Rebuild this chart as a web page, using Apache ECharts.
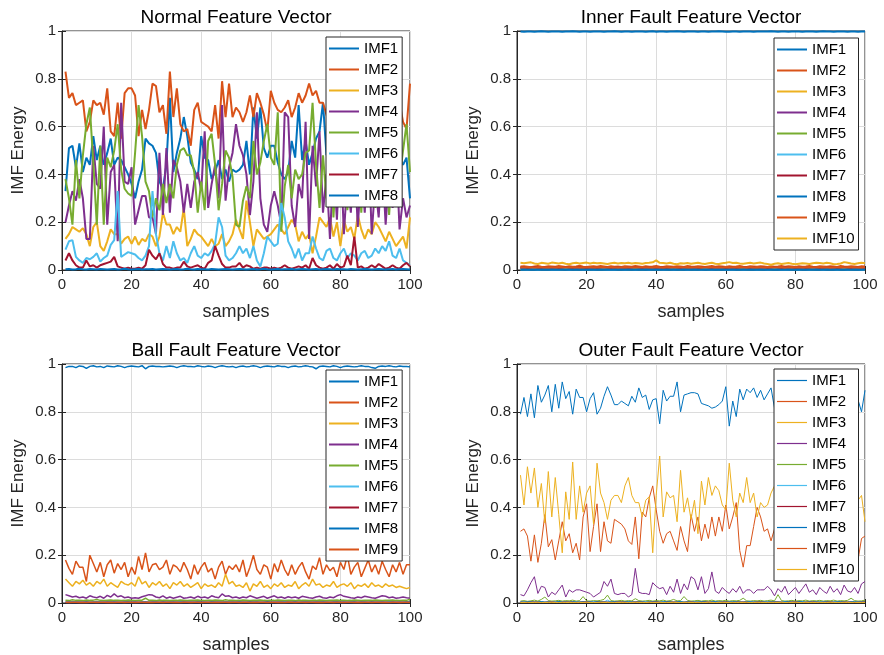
<!DOCTYPE html>
<html>
<head>
<meta charset="utf-8">
<title>IMF Energy Feature Vectors</title>
<script src="https://cdn.jsdelivr.net/npm/echarts@6/dist/echarts.min.js"></script>
<style>
  html, body { margin: 0; padding: 0; background: #fff; }
  #chart { width: 884px; height: 655px; }
</style>
</head>
<body>
<div id="chart"></div>
<script>
// ---- Normal Feature Vector (samples 1..100) ----
const nIMF1 = [0.33,0.51,0.52,0.43,0.53,0.41,0.47,0.44,0.56,0.46,
  0.52,0.44,0.49,0.55,0.44,0.47,0.46,0.43,0.40,0.36,
  0.30,0.37,0.42,0.55,0.53,0.52,0.49,0.37,0.34,0.44,
  0.72,0.41,0.49,0.55,0.64,0.56,0.45,0.42,0.38,0.56,
  0.47,0.46,0.38,0.41,0.46,0.38,0.42,0.37,0.42,0.41,
  0.42,0.44,0.54,0.40,0.68,0.55,0.68,0.51,0.47,0.52,
  0.52,0.45,0.40,0.38,0.41,0.54,0.47,0.69,0.46,0.54,
  0.44,0.49,0.55,0.58,0.70,0.48,0.52,0.45,0.55,0.43,
  0.50,0.46,0.53,0.41,0.48,0.52,0.44,0.50,0.47,0.55,
  0.42,0.49,0.51,0.45,0.53,0.40,0.47,0.44,0.47,0.30]
const nIMF2 = [0.83,0.72,0.74,0.69,0.70,0.71,0.58,0.62,0.71,0.69,
  0.70,0.65,0.76,0.58,0.56,0.70,0.55,0.74,0.76,0.76,
  0.73,0.56,0.67,0.59,0.67,0.78,0.77,0.66,0.69,0.57,
  0.83,0.64,0.76,0.61,0.58,0.59,0.52,0.67,0.70,0.62,
  0.61,0.60,0.58,0.69,0.55,0.79,0.64,0.78,0.64,0.68,
  0.66,0.62,0.66,0.73,0.64,0.74,0.70,0.65,0.58,0.75,
  0.70,0.67,0.66,0.68,0.71,0.64,0.68,0.74,0.70,0.73,
  0.78,0.73,0.75,0.70,0.70,0.65,0.60,0.72,0.63,0.68,
  0.70,0.62,0.74,0.66,0.71,0.60,0.69,0.73,0.64,0.70,
  0.66,0.72,0.61,0.68,0.74,0.63,0.70,0.62,0.59,0.78]
const nIMF3 = [0.13,0.15,0.18,0.17,0.16,0.175,0.15,0.10,0.18,0.20,
  0.10,0.08,0.12,0.17,0.15,0.15,0.11,0.13,0.14,0.11,
  0.14,0.105,0.13,0.12,0.15,0.14,0.10,0.14,0.24,0.19,
  0.19,0.15,0.18,0.16,0.26,0.10,0.13,0.17,0.15,0.14,
  0.12,0.10,0.13,0.10,0.11,0.15,0.10,0.12,0.15,0.21,
  0.17,0.13,0.29,0.20,0.10,0.17,0.15,0.13,0.14,0.15,
  0.17,0.19,0.17,0.15,0.18,0.21,0.19,0.12,0.16,0.13,
  0.15,0.07,0.14,0.22,0.20,0.18,0.22,0.14,0.20,0.10,
  0.21,0.16,0.18,0.13,0.23,0.17,0.13,0.17,0.15,0.20,
  0.18,0.15,0.12,0.16,0.13,0.10,0.12,0.14,0.09,0.22]
const nIMF4 = [0.20,0.27,0.33,0.29,0.38,0.30,0.13,0.13,0.52,0.36,
  0.34,0.60,0.19,0.41,0.44,0.12,0.70,0.37,0.36,0.43,
  0.19,0.25,0.31,0.31,0.22,0.22,0.15,0.49,0.23,0.51,
  0.24,0.46,0.43,0.37,0.24,0.36,0.26,0.37,0.41,0.33,
  0.58,0.26,0.36,0.44,0.30,0.69,0.29,0.43,0.49,0.61,
  0.52,0.48,0.40,0.23,0.37,0.66,0.30,0.19,0.16,0.27,
  0.33,0.27,0.19,0.66,0.64,0.27,0.18,0.36,0.30,0.62,
  0.13,0.52,0.35,0.58,0.24,0.40,0.13,0.45,0.21,0.52,
  0.15,0.38,0.24,0.48,0.18,0.42,0.24,0.55,0.15,0.36,
  0.22,0.47,0.19,0.40,0.26,0.50,0.17,0.30,0.22,0.27]
const nIMF5 = [0.38,0.30,0.19,0.46,0.30,0.48,0.61,0.68,0.45,0.19,
  0.52,0.19,0.47,0.43,0.50,0.61,0.42,0.34,0.32,0.31,
  0.49,0.69,0.56,0.37,0.33,0.22,0.30,0.25,0.36,0.28,
  0.36,0.30,0.44,0.50,0.51,0.48,0.48,0.41,0.24,0.37,
  0.25,0.54,0.57,0.44,0.25,0.36,0.50,0.47,0.39,0.19,
  0.18,0.29,0.35,0.30,0.54,0.40,0.45,0.54,0.61,0.47,
  0.44,0.66,0.16,0.35,0.44,0.30,0.42,0.38,0.40,0.49,
  0.50,0.70,0.44,0.26,0.48,0.30,0.55,0.22,0.46,0.34,
  0.58,0.25,0.42,0.30,0.52,0.24,0.46,0.33,0.56,0.26,
  0.40,0.28,0.50,0.23,0.45,0.32,0.38,0.50,0.61,0.41]
const nIMF6 = [0.085,0.12,0.125,0.055,0.04,0.03,0.05,0.045,0.055,0.07,
  0.035,0.05,0.06,0.105,0.125,0.33,0.055,0.065,0.075,0.07,
  0.065,0.05,0.04,0.06,0.10,0.33,0.15,0.07,0.04,0.10,
  0.05,0.12,0.07,0.04,0.05,0.03,0.07,0.10,0.06,0.05,
  0.07,0.06,0.08,0.11,0.22,0.18,0.06,0.04,0.05,0.07,
  0.10,0.07,0.09,0.05,0.10,0.04,0.015,0.07,0.14,0.12,
  0.10,0.11,0.28,0.22,0.12,0.09,0.05,0.09,0.04,0.07,
  0.07,0.14,0.09,0.05,0.04,0.08,0.09,0.05,0.04,0.07,
  0.09,0.05,0.07,0.06,0.04,0.07,0.08,0.05,0.06,0.09,
  0.07,0.10,0.08,0.12,0.06,0.05,0.09,0.04,0.03,0.02]
const nIMF7 = [0.04,0.07,0.04,0.02,0.01,0.01,0.04,0.015,0.02,0.01,
  0.02,0.025,0.03,0.035,0.055,0.015,0.01,0.005,0.01,0.005,
  0.005,0.01,0.005,0.02,0.085,0.06,0.045,0.07,0.025,0.01,
  0.01,0.005,0.01,0.01,0.035,0.015,0.01,0.015,0.02,0.01,
  0.005,0.03,0.04,0.10,0.06,0.025,0.01,0.01,0.015,0.015,
  0.03,0.01,0.02,0.015,0.005,0.01,0.005,0.01,0.01,0.005,
  0.01,0.005,0.01,0.02,0.01,0.005,0.01,0.015,0.01,0.02,
  0.005,0.05,0.02,0.01,0.005,0.01,0.02,0.005,0.025,0.01,
  0.015,0.06,0.02,0.14,0.01,0.015,0.005,0.01,0.02,0.01,
  0.025,0.015,0.005,0.01,0.02,0.01,0.005,0.02,0.03,0.015]
const nIMF8 = [0.003,0.004,0.002,0.003,0.005,0.003,0.002,0.004,0.003,0.002,
  0.004,0.003,0.002,0.003,0.004,0.002,0.003,0.005,0.003,0.002,
  0.003,0.004,0.002,0.003,0.003,0.004,0.002,0.003,0.004,0.003,
  0.002,0.003,0.004,0.002,0.003,0.005,0.003,0.002,0.004,0.003,
  0.003,0.002,0.004,0.003,0.002,0.003,0.004,0.003,0.002,0.003,
  0.004,0.003,0.002,0.003,0.004,0.002,0.003,0.005,0.003,0.002,
  0.003,0.004,0.002,0.003,0.003,0.004,0.002,0.003,0.004,0.003,
  0.002,0.003,0.004,0.002,0.003,0.004,0.003,0.002,0.004,0.003,
  0.003,0.002,0.004,0.003,0.002,0.003,0.004,0.003,0.002,0.003,
  0.004,0.003,0.002,0.003,0.004,0.002,0.003,0.004,0.003,0.002]

// ---- Inner Fault Feature Vector ----
const iIMF1 = [0.998,0.997,0.998,0.998,0.997,0.998,0.999,0.998,0.997,0.998,
  0.998,0.998,0.997,0.998,0.998,0.999,0.998,0.997,0.998,0.998,
  0.997,0.998,0.998,0.998,0.997,0.998,0.998,0.999,0.998,0.997,
  0.998,0.998,0.997,0.998,0.998,0.998,0.997,0.998,0.999,0.997,
  0.998,0.998,0.997,0.998,0.998,0.999,0.998,0.997,0.998,0.998,
  0.998,0.997,0.998,0.998,0.997,0.998,0.998,0.999,0.998,0.997,
  0.997,0.998,0.998,0.997,0.998,0.998,0.998,0.997,0.998,0.998,
  0.998,0.998,0.999,0.998,0.997,0.998,0.998,0.997,0.998,0.998,
  0.998,0.997,0.998,0.998,0.998,0.997,0.998,0.999,0.998,0.998,
  0.997,0.998,0.998,0.998,0.997,0.998,0.998,0.997,0.998,0.998]
const iIMF2 = [0.015,0.016,0.014,0.012,0.015,0.017,0.014,0.013,0.016,0.015,
  0.014,0.017,0.015,0.013,0.016,0.014,0.015,0.018,0.014,0.013,
  0.015,0.016,0.014,0.017,0.015,0.013,0.016,0.014,0.015,0.013,
  0.016,0.015,0.014,0.017,0.015,0.013,0.016,0.014,0.015,0.017,
  0.014,0.013,0.016,0.015,0.014,0.016,0.015,0.013,0.017,0.015,
  0.014,0.016,0.015,0.013,0.015,0.017,0.014,0.016,0.015,0.013,
  0.016,0.014,0.015,0.017,0.014,0.013,0.016,0.015,0.014,0.016,
  0.015,0.013,0.016,0.014,0.015,0.017,0.014,0.016,0.015,0.013,
  0.016,0.014,0.015,0.017,0.014,0.013,0.016,0.015,0.014,0.016,
  0.015,0.013,0.017,0.015,0.014,0.016,0.015,0.013,0.016,0.015]
const iIMF3 = [0.005,0.004,0.006,0.005,0.004,0.005,0.006,0.004,0.005,0.005,
  0.004,0.006,0.005,0.004,0.005,0.006,0.005,0.004,0.005,0.006,
  0.005,0.004,0.006,0.005,0.005,0.004,0.005,0.006,0.004,0.005,
  0.006,0.005,0.004,0.005,0.006,0.005,0.004,0.005,0.005,0.006,
  0.004,0.005,0.006,0.005,0.004,0.005,0.006,0.004,0.005,0.005,
  0.005,0.004,0.006,0.005,0.004,0.005,0.006,0.004,0.005,0.005,
  0.004,0.006,0.005,0.004,0.005,0.006,0.005,0.004,0.005,0.006,
  0.005,0.004,0.006,0.005,0.005,0.004,0.005,0.006,0.004,0.005,
  0.006,0.005,0.004,0.005,0.006,0.005,0.004,0.005,0.005,0.006,
  0.004,0.005,0.006,0.005,0.004,0.005,0.006,0.004,0.005,0.005]
const iIMF4 = [0.006,0.008,0.007,0.01,0.006,0.007,0.009,0.006,0.008,0.007,
  0.006,0.009,0.007,0.006,0.008,0.012,0.007,0.006,0.008,0.007,
  0.009,0.006,0.007,0.008,0.006,0.01,0.007,0.006,0.008,0.007,
  0.006,0.009,0.007,0.008,0.006,0.007,0.009,0.006,0.008,0.012,
  0.007,0.006,0.008,0.007,0.009,0.006,0.007,0.008,0.006,0.007,
  0.009,0.006,0.008,0.007,0.006,0.009,0.007,0.006,0.012,0.007,
  0.006,0.008,0.007,0.009,0.006,0.007,0.008,0.006,0.007,0.009,
  0.006,0.008,0.007,0.006,0.009,0.007,0.006,0.008,0.007,0.006,
  0.009,0.007,0.006,0.008,0.007,0.009,0.006,0.007,0.008,0.006,
  0.007,0.009,0.006,0.008,0.007,0.006,0.009,0.007,0.006,0.008]
const iIMF5 = [0.003,0.002,0.003,0.004,0.003,0.002,0.003,0.003,0.004,0.002,
  0.003,0.003,0.002,0.004,0.003,0.003,0.002,0.003,0.004,0.003,
  0.002,0.003,0.003,0.004,0.002,0.003,0.003,0.002,0.004,0.003,
  0.003,0.002,0.003,0.004,0.003,0.002,0.003,0.003,0.004,0.002,
  0.003,0.003,0.002,0.004,0.003,0.003,0.002,0.003,0.004,0.003,
  0.002,0.003,0.003,0.004,0.002,0.003,0.003,0.002,0.004,0.003,
  0.003,0.002,0.003,0.004,0.003,0.002,0.003,0.003,0.004,0.002,
  0.003,0.003,0.002,0.004,0.003,0.003,0.002,0.003,0.004,0.003,
  0.002,0.003,0.003,0.004,0.002,0.003,0.003,0.002,0.004,0.003,
  0.003,0.002,0.003,0.004,0.003,0.002,0.003,0.003,0.004,0.002]
const iIMF6 = [0.002,0.002,0.001,0.002,0.002,0.001,0.002,0.002,0.002,0.001,
  0.002,0.001,0.002,0.002,0.001,0.002,0.002,0.002,0.001,0.002,
  0.002,0.001,0.002,0.002,0.002,0.001,0.002,0.001,0.002,0.002,
  0.001,0.002,0.002,0.001,0.002,0.002,0.002,0.001,0.002,0.002,
  0.002,0.001,0.002,0.002,0.001,0.002,0.002,0.002,0.001,0.002,
  0.002,0.002,0.001,0.002,0.002,0.001,0.002,0.002,0.002,0.001,
  0.002,0.001,0.002,0.002,0.001,0.002,0.002,0.002,0.001,0.002,
  0.002,0.001,0.002,0.002,0.002,0.001,0.002,0.001,0.002,0.002,
  0.001,0.002,0.002,0.001,0.002,0.002,0.002,0.001,0.002,0.002,
  0.002,0.001,0.002,0.002,0.001,0.002,0.002,0.002,0.001,0.002]
const iIMF7 = [0.01,0.011,0.009,0.01,0.012,0.01,0.009,0.011,0.01,0.01,
  0.011,0.009,0.01,0.012,0.01,0.009,0.011,0.01,0.01,0.009,
  0.01,0.011,0.009,0.01,0.012,0.01,0.009,0.011,0.01,0.01,
  0.011,0.009,0.01,0.012,0.01,0.009,0.011,0.01,0.01,0.009,
  0.01,0.011,0.009,0.01,0.012,0.01,0.009,0.011,0.01,0.01,
  0.011,0.009,0.01,0.012,0.01,0.009,0.011,0.01,0.01,0.009,
  0.01,0.011,0.009,0.01,0.012,0.01,0.009,0.011,0.01,0.01,
  0.011,0.009,0.01,0.012,0.01,0.009,0.011,0.01,0.01,0.009,
  0.01,0.011,0.009,0.01,0.012,0.01,0.009,0.011,0.01,0.01,
  0.011,0.009,0.01,0.012,0.01,0.009,0.011,0.01,0.01,0.009]
const iIMF8 = [0.001,0.002,0.001,0.001,0.002,0.001,0.002,0.001,0.001,0.002,
  0.001,0.001,0.002,0.001,0.002,0.001,0.001,0.002,0.001,0.001,
  0.002,0.001,0.001,0.002,0.001,0.002,0.001,0.001,0.002,0.001,
  0.001,0.002,0.001,0.001,0.002,0.001,0.002,0.001,0.001,0.002,
  0.001,0.001,0.002,0.001,0.002,0.001,0.001,0.002,0.001,0.001,
  0.002,0.001,0.001,0.002,0.001,0.002,0.001,0.001,0.002,0.001,
  0.001,0.002,0.001,0.001,0.002,0.001,0.002,0.001,0.001,0.002,
  0.001,0.001,0.002,0.001,0.002,0.001,0.001,0.002,0.001,0.001,
  0.002,0.001,0.001,0.002,0.001,0.002,0.001,0.001,0.002,0.001,
  0.001,0.002,0.001,0.001,0.002,0.001,0.002,0.001,0.001,0.002]
const iIMF9 = [0.012,0.011,0.013,0.012,0.01,0.012,0.013,0.011,0.012,0.012,
  0.011,0.013,0.012,0.011,0.012,0.013,0.012,0.01,0.012,0.011,
  0.013,0.012,0.011,0.012,0.013,0.011,0.012,0.012,0.01,0.012,
  0.013,0.011,0.012,0.012,0.011,0.013,0.012,0.011,0.012,0.013,
  0.012,0.01,0.012,0.011,0.013,0.012,0.011,0.012,0.013,0.011,
  0.012,0.012,0.01,0.012,0.013,0.011,0.012,0.012,0.011,0.013,
  0.012,0.011,0.012,0.013,0.012,0.01,0.012,0.011,0.013,0.012,
  0.011,0.012,0.013,0.011,0.012,0.012,0.01,0.012,0.013,0.011,
  0.012,0.012,0.011,0.013,0.012,0.011,0.012,0.013,0.012,0.01,
  0.012,0.011,0.013,0.012,0.011,0.012,0.013,0.011,0.012,0.012]
const iIMF10 = [0.03,0.028,0.03,0.032,0.027,0.025,0.03,0.028,0.026,0.031,
  0.029,0.027,0.03,0.026,0.024,0.028,0.03,0.027,0.029,0.031,
  0.027,0.03,0.028,0.029,0.027,0.025,0.028,0.03,0.027,0.029,
  0.028,0.03,0.027,0.029,0.028,0.026,0.029,0.03,0.032,0.04,
  0.03,0.029,0.027,0.03,0.026,0.024,0.028,0.027,0.029,0.026,
  0.028,0.03,0.027,0.025,0.028,0.03,0.026,0.025,0.028,0.03,
  0.033,0.029,0.03,0.027,0.026,0.028,0.03,0.027,0.029,0.031,
  0.027,0.025,0.022,0.026,0.028,0.025,0.027,0.029,0.026,0.024,
  0.026,0.028,0.027,0.025,0.028,0.03,0.029,0.027,0.03,0.028,
  0.024,0.025,0.027,0.033,0.03,0.027,0.025,0.028,0.03,0.028]

// ---- Ball Fault Feature Vector ----
const bIMF1 = [0.985,0.99,0.99,0.985,0.992,0.99,0.982,0.99,0.993,0.988,
  0.99,0.985,0.992,0.99,0.988,0.993,0.99,0.985,0.99,0.992,
  0.99,0.988,0.993,0.98,0.99,0.992,0.99,0.99,0.988,0.99,
  0.992,0.99,0.985,0.99,0.993,0.99,0.99,0.988,0.993,0.99,
  0.988,0.992,0.99,0.985,0.99,0.993,0.99,0.988,0.99,0.985,
  0.99,0.992,0.988,0.99,0.993,0.99,0.985,0.99,0.992,0.99,
  0.988,0.993,0.99,0.99,0.985,0.99,0.992,0.988,0.99,0.993,
  0.99,0.988,0.98,0.99,0.992,0.99,0.988,0.993,0.99,0.985,
  0.99,0.992,0.99,0.988,0.99,0.993,0.99,0.99,0.985,0.982,
  0.99,0.992,0.99,0.993,0.99,0.988,0.992,0.99,0.99,0.988]
const bIMF2 = [0.18,0.145,0.12,0.175,0.15,0.15,0.09,0.20,0.165,0.13,
  0.17,0.11,0.16,0.18,0.125,0.165,0.14,0.17,0.11,0.15,
  0.12,0.195,0.14,0.21,0.13,0.16,0.165,0.14,0.15,0.18,
  0.12,0.16,0.15,0.13,0.17,0.14,0.10,0.16,0.12,0.15,
  0.17,0.13,0.145,0.10,0.15,0.175,0.12,0.155,0.14,0.16,
  0.13,0.18,0.11,0.15,0.20,0.14,0.12,0.16,0.15,0.10,
  0.165,0.13,0.18,0.14,0.115,0.16,0.12,0.15,0.17,0.13,
  0.10,0.155,0.14,0.19,0.12,0.16,0.135,0.15,0.11,0.17,
  0.14,0.20,0.12,0.15,0.17,0.11,0.145,0.18,0.13,0.16,
  0.12,0.175,0.14,0.11,0.16,0.13,0.17,0.12,0.16,0.16]
const bIMF3 = [0.10,0.085,0.07,0.09,0.08,0.095,0.075,0.085,0.07,0.09,
  0.08,0.10,0.07,0.085,0.075,0.065,0.09,0.08,0.075,0.085,
  0.07,0.11,0.08,0.09,0.065,0.085,0.075,0.09,0.07,0.08,
  0.06,0.085,0.075,0.09,0.07,0.08,0.065,0.075,0.085,0.06,
  0.08,0.07,0.075,0.065,0.085,0.07,0.12,0.08,0.09,0.07,
  0.075,0.065,0.085,0.05,0.08,0.07,0.09,0.065,0.075,0.06,
  0.08,0.07,0.085,0.065,0.075,0.07,0.09,0.06,0.075,0.085,
  0.07,0.10,0.075,0.08,0.065,0.075,0.07,0.09,0.065,0.075,
  0.08,0.07,0.085,0.06,0.075,0.07,0.08,0.065,0.085,0.07,
  0.075,0.065,0.08,0.07,0.075,0.065,0.07,0.065,0.06,0.065]
const bIMF4 = [0.035,0.03,0.025,0.028,0.022,0.025,0.02,0.03,0.025,0.022,
  0.028,0.02,0.032,0.025,0.038,0.026,0.03,0.022,0.025,0.02,
  0.022,0.02,0.026,0.03,0.035,0.033,0.025,0.022,0.03,0.02,
  0.025,0.02,0.024,0.028,0.02,0.022,0.025,0.02,0.028,0.022,
  0.025,0.02,0.03,0.025,0.022,0.038,0.028,0.03,0.022,0.025,
  0.02,0.025,0.022,0.03,0.025,0.02,0.024,0.028,0.02,0.025,
  0.03,0.022,0.025,0.02,0.026,0.022,0.025,0.02,0.028,0.025,
  0.022,0.02,0.025,0.028,0.022,0.02,0.025,0.022,0.03,0.035,
  0.028,0.025,0.022,0.02,0.025,0.022,0.028,0.025,0.022,0.02,
  0.025,0.03,0.028,0.022,0.025,0.02,0.022,0.025,0.022,0.02]
const bIMF5 = [0.012,0.01,0.014,0.011,0.012,0.01,0.013,0.011,0.012,0.015,
  0.011,0.01,0.012,0.013,0.011,0.012,0.01,0.011,0.013,0.012,
  0.01,0.011,0.012,0.02,0.011,0.012,0.01,0.013,0.011,0.012,
  0.01,0.012,0.011,0.013,0.012,0.01,0.011,0.012,0.013,0.011,
  0.01,0.012,0.011,0.013,0.012,0.01,0.014,0.011,0.012,0.01,
  0.011,0.013,0.012,0.01,0.011,0.012,0.013,0.011,0.01,0.012,
  0.011,0.013,0.012,0.01,0.011,0.012,0.01,0.013,0.011,0.012,
  0.01,0.012,0.011,0.013,0.012,0.01,0.011,0.012,0.013,0.011,
  0.012,0.01,0.011,0.013,0.012,0.01,0.011,0.012,0.011,0.013,
  0.012,0.01,0.011,0.012,0.013,0.011,0.01,0.012,0.011,0.016]
const bIMF6 = [0.004,0.003,0.004,0.005,0.003,0.004,0.004,0.003,0.005,0.004,
  0.003,0.004,0.004,0.005,0.003,0.004,0.003,0.004,0.005,0.004,
  0.004,0.003,0.004,0.005,0.003,0.004,0.004,0.003,0.005,0.004,
  0.003,0.004,0.004,0.005,0.003,0.004,0.003,0.004,0.005,0.004,
  0.004,0.003,0.004,0.005,0.003,0.004,0.004,0.003,0.005,0.004,
  0.003,0.004,0.004,0.005,0.003,0.004,0.003,0.004,0.005,0.004,
  0.004,0.003,0.004,0.005,0.003,0.004,0.004,0.003,0.005,0.004,
  0.003,0.004,0.004,0.005,0.003,0.004,0.003,0.004,0.005,0.004,
  0.004,0.003,0.004,0.005,0.003,0.004,0.004,0.003,0.005,0.004,
  0.003,0.004,0.004,0.005,0.003,0.004,0.003,0.004,0.005,0.004]
const bIMF7 = [0.002,0.003,0.002,0.002,0.003,0.002,0.003,0.002,0.002,0.003,
  0.002,0.002,0.003,0.002,0.003,0.002,0.002,0.003,0.002,0.002,
  0.003,0.002,0.002,0.003,0.002,0.003,0.002,0.002,0.003,0.002,
  0.002,0.003,0.002,0.002,0.003,0.002,0.003,0.002,0.002,0.003,
  0.002,0.002,0.003,0.002,0.003,0.002,0.002,0.003,0.002,0.002,
  0.003,0.002,0.002,0.003,0.002,0.003,0.002,0.002,0.003,0.002,
  0.002,0.003,0.002,0.002,0.003,0.002,0.003,0.002,0.002,0.003,
  0.002,0.002,0.003,0.002,0.003,0.002,0.002,0.003,0.002,0.002,
  0.003,0.002,0.002,0.003,0.002,0.003,0.002,0.002,0.003,0.002,
  0.002,0.003,0.002,0.002,0.003,0.002,0.003,0.002,0.002,0.003]
const bIMF8 = [0.002,0.002,0.003,0.002,0.002,0.002,0.003,0.002,0.002,0.002,
  0.003,0.002,0.002,0.002,0.003,0.002,0.002,0.002,0.003,0.002,
  0.002,0.002,0.003,0.002,0.002,0.002,0.003,0.002,0.002,0.002,
  0.003,0.002,0.002,0.002,0.003,0.002,0.002,0.002,0.003,0.002,
  0.002,0.002,0.003,0.002,0.002,0.002,0.003,0.002,0.002,0.002,
  0.003,0.002,0.002,0.002,0.003,0.002,0.002,0.002,0.003,0.002,
  0.002,0.002,0.003,0.002,0.002,0.002,0.003,0.002,0.002,0.002,
  0.003,0.002,0.002,0.002,0.003,0.002,0.002,0.002,0.003,0.002,
  0.002,0.002,0.003,0.002,0.002,0.002,0.003,0.002,0.002,0.002,
  0.003,0.002,0.002,0.002,0.003,0.002,0.002,0.002,0.003,0.002]
const bIMF9 = [0.003,0.002,0.003,0.003,0.002,0.003,0.002,0.003,0.003,0.002,
  0.003,0.003,0.002,0.003,0.002,0.003,0.003,0.002,0.003,0.003,
  0.002,0.003,0.003,0.002,0.003,0.002,0.003,0.003,0.002,0.003,
  0.003,0.002,0.003,0.002,0.003,0.003,0.002,0.003,0.003,0.002,
  0.003,0.003,0.002,0.003,0.002,0.003,0.003,0.002,0.003,0.003,
  0.002,0.003,0.003,0.002,0.003,0.002,0.003,0.003,0.002,0.003,
  0.003,0.002,0.003,0.002,0.003,0.003,0.002,0.003,0.003,0.002,
  0.003,0.003,0.002,0.003,0.002,0.003,0.003,0.002,0.003,0.003,
  0.002,0.003,0.003,0.002,0.003,0.002,0.003,0.003,0.002,0.003,
  0.003,0.002,0.003,0.002,0.003,0.003,0.002,0.003,0.003,0.002]

// ---- Outer Fault Feature Vector ----
const oIMF1 = [0.79,0.86,0.78,0.875,0.775,0.91,0.84,0.87,0.91,0.80,
  0.915,0.815,0.925,0.855,0.885,0.79,0.895,0.86,0.86,0.80,
  0.855,0.88,0.79,0.815,0.865,0.905,0.87,0.83,0.83,0.845,
  0.835,0.825,0.865,0.84,0.90,0.86,0.87,0.81,0.85,0.855,
  0.75,0.89,0.845,0.865,0.865,0.925,0.80,0.87,0.875,0.88,
  0.88,0.875,0.835,0.83,0.825,0.815,0.82,0.83,0.845,0.905,
  0.74,0.845,0.78,0.895,0.85,0.895,0.88,0.90,0.86,0.89,
  0.85,0.875,0.90,0.815,0.86,0.83,0.88,0.84,0.87,0.82,
  0.86,0.89,0.83,0.85,0.88,0.81,0.87,0.84,0.86,0.82,
  0.88,0.85,0.83,0.87,0.84,0.86,0.81,0.85,0.80,0.89]
const oIMF2 = [0.30,0.31,0.28,0.175,0.285,0.17,0.25,0.37,0.235,0.265,
  0.18,0.26,0.34,0.26,0.29,0.21,0.25,0.18,0.36,0.415,
  0.215,0.32,0.415,0.215,0.34,0.26,0.25,0.35,0.34,0.33,
  0.31,0.26,0.245,0.36,0.185,0.38,0.36,0.44,0.49,0.39,
  0.30,0.25,0.29,0.30,0.26,0.22,0.32,0.26,0.215,0.37,
  0.30,0.36,0.26,0.33,0.27,0.36,0.28,0.36,0.30,0.41,
  0.31,0.36,0.42,0.22,0.15,0.24,0.24,0.32,0.40,0.36,
  0.30,0.31,0.26,0.31,0.25,0.33,0.28,0.24,0.36,0.29,
  0.27,0.34,0.22,0.30,0.38,0.26,0.31,0.23,0.35,0.28,
  0.25,0.33,0.29,0.22,0.36,0.27,0.30,0.18,0.27,0.28]
const oIMF3 = [0.535,0.41,0.57,0.46,0.565,0.40,0.50,0.335,0.55,0.36,
  0.525,0.37,0.21,0.465,0.35,0.59,0.35,0.49,0.38,0.46,
  0.49,0.33,0.585,0.46,0.42,0.35,0.43,0.45,0.45,0.42,
  0.49,0.525,0.45,0.42,0.42,0.36,0.43,0.445,0.21,0.45,
  0.615,0.36,0.465,0.44,0.45,0.34,0.555,0.38,0.44,0.35,
  0.43,0.29,0.51,0.41,0.525,0.45,0.49,0.47,0.41,0.39,
  0.585,0.43,0.36,0.46,0.42,0.525,0.42,0.46,0.36,0.42,
  0.40,0.41,0.46,0.49,0.42,0.50,0.38,0.46,0.53,0.40,
  0.48,0.37,0.45,0.52,0.41,0.47,0.39,0.44,0.55,0.42,
  0.48,0.36,0.45,0.50,0.40,0.47,0.55,0.43,0.45,0.34]
const oIMF4 = [0.035,0.03,0.055,0.085,0.11,0.04,0.07,0.065,0.025,0.045,
  0.035,0.055,0.075,0.025,0.055,0.045,0.055,0.055,0.05,0.045,
  0.04,0.025,0.035,0.045,0.09,0.07,0.10,0.04,0.035,0.04,
  0.04,0.025,0.035,0.145,0.045,0.04,0.04,0.035,0.085,0.07,
  0.06,0.065,0.035,0.07,0.045,0.10,0.04,0.08,0.055,0.11,
  0.10,0.055,0.11,0.04,0.06,0.13,0.05,0.04,0.065,0.05,
  0.04,0.06,0.045,0.07,0.04,0.055,0.055,0.04,0.055,0.055,
  0.055,0.07,0.055,0.03,0.06,0.045,0.07,0.035,0.05,0.065,
  0.04,0.06,0.08,0.045,0.055,0.035,0.065,0.05,0.04,0.07,
  0.045,0.06,0.035,0.075,0.05,0.045,0.065,0.04,0.08,0.09]
const oIMF5 = [0.008,0.01,0.007,0.009,0.012,0.008,0.015,0.025,0.01,0.008,
  0.009,0.011,0.008,0.01,0.009,0.012,0.008,0.01,0.027,0.009,
  0.008,0.01,0.009,0.011,0.015,0.033,0.01,0.008,0.009,0.011,
  0.008,0.01,0.009,0.018,0.01,0.008,0.009,0.011,0.008,0.01,
  0.009,0.012,0.008,0.01,0.015,0.009,0.01,0.027,0.011,0.008,
  0.009,0.011,0.008,0.01,0.009,0.012,0.008,0.01,0.009,0.011,
  0.008,0.01,0.009,0.011,0.02,0.009,0.008,0.01,0.009,0.011,
  0.008,0.01,0.012,0.009,0.035,0.01,0.008,0.009,0.011,0.008,
  0.01,0.009,0.012,0.008,0.01,0.009,0.011,0.008,0.01,0.009,
  0.012,0.008,0.01,0.009,0.011,0.02,0.01,0.008,0.009,0.012]
const oIMF6 = [0.004,0.005,0.003,0.004,0.006,0.004,0.005,0.004,0.003,0.005,
  0.004,0.006,0.004,0.005,0.003,0.004,0.005,0.004,0.006,0.004,
  0.005,0.004,0.003,0.005,0.004,0.012,0.004,0.005,0.003,0.004,
  0.005,0.004,0.006,0.004,0.005,0.004,0.003,0.005,0.004,0.006,
  0.004,0.005,0.003,0.004,0.005,0.004,0.006,0.004,0.005,0.004,
  0.003,0.005,0.004,0.006,0.004,0.005,0.003,0.004,0.005,0.004,
  0.006,0.004,0.005,0.004,0.003,0.005,0.004,0.006,0.004,0.005,
  0.003,0.004,0.005,0.004,0.006,0.004,0.005,0.004,0.003,0.005,
  0.004,0.006,0.004,0.005,0.003,0.004,0.005,0.004,0.006,0.004,
  0.005,0.004,0.003,0.005,0.004,0.006,0.004,0.005,0.003,0.004]
const oIMF7 = [0.003,0.002,0.003,0.004,0.002,0.003,0.003,0.002,0.004,0.003,
  0.002,0.003,0.003,0.004,0.002,0.003,0.002,0.003,0.004,0.003,
  0.003,0.002,0.003,0.004,0.002,0.003,0.003,0.002,0.004,0.003,
  0.002,0.003,0.003,0.004,0.002,0.003,0.002,0.003,0.004,0.003,
  0.003,0.002,0.003,0.004,0.002,0.003,0.003,0.002,0.004,0.003,
  0.002,0.003,0.003,0.004,0.002,0.003,0.002,0.003,0.004,0.003,
  0.003,0.002,0.003,0.004,0.002,0.003,0.003,0.002,0.004,0.003,
  0.002,0.003,0.003,0.004,0.002,0.003,0.002,0.003,0.004,0.003,
  0.003,0.002,0.003,0.004,0.002,0.003,0.003,0.002,0.004,0.003,
  0.002,0.003,0.003,0.004,0.002,0.003,0.002,0.003,0.004,0.003]
const oIMF8 = [0.005,0.004,0.006,0.005,0.004,0.005,0.006,0.004,0.005,0.005,
  0.004,0.006,0.005,0.004,0.005,0.006,0.005,0.004,0.005,0.006,
  0.005,0.004,0.006,0.005,0.005,0.004,0.005,0.006,0.004,0.005,
  0.006,0.005,0.004,0.005,0.006,0.005,0.004,0.005,0.005,0.006,
  0.004,0.005,0.006,0.005,0.004,0.005,0.006,0.004,0.005,0.005,
  0.005,0.004,0.006,0.005,0.004,0.005,0.006,0.004,0.005,0.005,
  0.004,0.006,0.005,0.004,0.005,0.006,0.005,0.004,0.005,0.006,
  0.005,0.004,0.006,0.005,0.005,0.004,0.005,0.006,0.004,0.005,
  0.006,0.005,0.004,0.005,0.006,0.005,0.004,0.005,0.005,0.006,
  0.004,0.005,0.006,0.005,0.004,0.005,0.006,0.004,0.005,0.005]
const oIMF9 = [0.003,0.003,0.002,0.003,0.004,0.003,0.002,0.003,0.003,0.004,
  0.003,0.002,0.003,0.003,0.004,0.003,0.002,0.003,0.003,0.004,
  0.003,0.002,0.003,0.003,0.004,0.003,0.002,0.003,0.003,0.004,
  0.003,0.002,0.003,0.003,0.004,0.003,0.002,0.003,0.003,0.004,
  0.003,0.002,0.003,0.003,0.004,0.003,0.002,0.003,0.003,0.004,
  0.003,0.002,0.003,0.003,0.004,0.003,0.002,0.003,0.003,0.004,
  0.003,0.002,0.003,0.003,0.004,0.003,0.002,0.003,0.003,0.004,
  0.003,0.002,0.003,0.003,0.004,0.003,0.002,0.003,0.003,0.004,
  0.003,0.002,0.003,0.003,0.004,0.003,0.002,0.003,0.003,0.004,
  0.003,0.002,0.003,0.003,0.004,0.003,0.002,0.003,0.003,0.004]
const oIMF10 = [0.002,0.002,0.003,0.002,0.002,0.003,0.002,0.002,0.002,0.003,
  0.002,0.002,0.003,0.002,0.002,0.002,0.003,0.002,0.002,0.003,
  0.002,0.002,0.002,0.003,0.002,0.002,0.003,0.002,0.002,0.002,
  0.003,0.002,0.002,0.003,0.002,0.002,0.002,0.003,0.002,0.002,
  0.003,0.002,0.002,0.002,0.003,0.002,0.002,0.003,0.002,0.002,
  0.002,0.003,0.002,0.002,0.003,0.002,0.002,0.002,0.003,0.002,
  0.002,0.003,0.002,0.002,0.002,0.003,0.002,0.002,0.003,0.002,
  0.002,0.002,0.003,0.002,0.002,0.003,0.002,0.002,0.002,0.003,
  0.002,0.002,0.003,0.002,0.002,0.002,0.003,0.002,0.002,0.003,
  0.002,0.002,0.002,0.003,0.002,0.002,0.003,0.002,0.002,0.002]

// MATLAB default line colour order
const lineColors = ['#0072BD', '#D95319', '#EDB120', '#7E2F8E', '#77AC30', '#4DBEEE', '#A2142F', '#0072BD', '#D95319', '#EDB120']
const imfNames = ['IMF1', 'IMF2', 'IMF3', 'IMF4', 'IMF5', 'IMF6', 'IMF7', 'IMF8', 'IMF9', 'IMF10']

const panels = [
  { title: 'Normal Feature Vector', data: [nIMF1, nIMF2, nIMF3, nIMF4, nIMF5, nIMF6, nIMF7, nIMF8],
    left: 62, top: 31, lineWidth: 2, legendLeft: 326, legendTop: 37 },
  { title: 'Inner Fault Feature Vector', data: [iIMF1, iIMF2, iIMF3, iIMF4, iIMF5, iIMF6, iIMF7, iIMF8, iIMF9, iIMF10],
    left: 517, top: 31, lineWidth: 2, legendLeft: 774, legendTop: 38 },
  { title: 'Ball Fault Feature Vector', data: [bIMF1, bIMF2, bIMF3, bIMF4, bIMF5, bIMF6, bIMF7, bIMF8, bIMF9],
    left: 62, top: 364, lineWidth: 1.5, legendLeft: 326, legendTop: 370 },
  { title: 'Outer Fault Feature Vector', data: [oIMF1, oIMF2, oIMF3, oIMF4, oIMF5, oIMF6, oIMF7, oIMF8, oIMF9, oIMF10],
    left: 517, top: 364, lineWidth: 1, legendLeft: 774, legendTop: 369 },
]

const W = 348
const H = 239
const FONT = '"Liberation Sans", Arial, Helvetica, sans-serif'
const AX = '#262626'
const GRIDLINE = '#dcdcdc'

const grid = []
const xAxis = []
const yAxis = []
const series = []
const legend = []
const title = []

panels.forEach((p, k) => {
  grid.push({ left: p.left, top: p.top, width: W, height: H, show: true,
    borderColor: AX, borderWidth: 1, backgroundColor: '#fff', containLabel: false })
  title.push({ text: p.title, left: p.left + W / 2, top: p.top - 23, textAlign: 'center', padding: 0,
    textStyle: { fontFamily: FONT, fontSize: 19, fontWeight: 'normal', color: '#000' } })
  xAxis.push({ type: 'value', gridIndex: k, min: 0, max: 100, interval: 20,
    name: 'samples', nameLocation: 'middle', nameGap: 33,
    nameTextStyle: { fontFamily: FONT, fontSize: 18, color: AX },
    axisLine: { show: true, onZero: false, lineStyle: { color: AX } },
    axisTick: { inside: true, length: 4, lineStyle: { color: AX } },
    axisLabel: { fontFamily: FONT, fontSize: 15, color: AX, margin: 7 },
    splitLine: { show: true, lineStyle: { color: GRIDLINE } } })
  yAxis.push({ type: 'value', gridIndex: k, min: 0, max: 1, interval: 0.2,
    name: 'IMF Energy', nameLocation: 'middle', nameGap: 35,
    nameTextStyle: { fontFamily: FONT, fontSize: 17, color: AX },
    axisLine: { show: true, onZero: false, lineStyle: { color: AX } },
    axisTick: { inside: true, length: 4, lineStyle: { color: AX } },
    axisLabel: { fontFamily: FONT, fontSize: 15, color: AX, margin: 6 },
    splitLine: { show: true, lineStyle: { color: GRIDLINE } } })
  const names = imfNames.slice(0, p.data.length)
  p.data.forEach((vals, j) => {
    series.push({ type: 'line', name: names[j], xAxisIndex: k, yAxisIndex: k,
      data: vals.map((v, i) => [i + 1, v]),
      symbol: 'none', silent: true, animation: false,
      lineStyle: { width: p.lineWidth, color: lineColors[j] },
      itemStyle: { color: lineColors[j] } })
  })
  // legend marks are plain line segments, as in MATLAB
  legend.push({ data: names, orient: 'vertical', left: p.legendLeft, top: p.legendTop,
    icon: 'rect', itemWidth: 30, itemHeight: p.lineWidth < 1.5 ? 1.2 : 2, itemGap: 6,
    padding: [4, 4, 4, 3],
    backgroundColor: '#fff', borderColor: AX, borderWidth: 1, borderRadius: 0,
    selectedMode: false,
    textStyle: { fontFamily: FONT, fontSize: 15, color: '#000', lineHeight: 15 } })
})

// mirrored axes on top and right, ticks only (MATLAB box)
panels.forEach((p, k) => {
  xAxis.push({ type: 'value', gridIndex: k, position: 'top', min: 0, max: 100, interval: 20,
    axisLine: { show: false }, axisLabel: { show: false }, splitLine: { show: false },
    axisTick: { show: true, inside: true, length: 4, lineStyle: { color: AX } } })
  yAxis.push({ type: 'value', gridIndex: k, position: 'right', min: 0, max: 1, interval: 0.2,
    axisLine: { show: false }, axisLabel: { show: false }, splitLine: { show: false },
    axisTick: { show: true, inside: true, length: 4, lineStyle: { color: AX } } })
})

const chart = echarts.init(document.getElementById('chart'), null, { renderer: 'canvas' })
chart.setOption({
  animation: false,
  backgroundColor: '#fff',
  title: title,
  grid: grid,
  xAxis: xAxis,
  yAxis: yAxis,
  legend: legend,
  series: series
})
</script>
</body>
</html>
